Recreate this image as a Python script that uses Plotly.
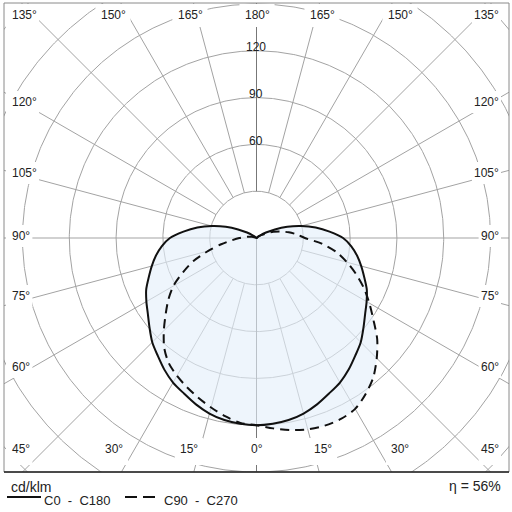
import numpy as np
import plotly.graph_objects as go

# ---------------- data (cd/klm) ----------------
theta_deg = list(range(0, 181, 5))
c0_c180 = [120, 119.5, 118.5, 116.5, 113.5, 110, 107, 103, 98.5, 94.5, 89.5, 85, 81.5, 78,
           73.5, 69.5, 65.5, 61, 55.5, 47, 38.5, 29.5, 21, 13, 7, 3, 1, 0,
           0, 0, 0, 0, 0, 0, 0, 0, 0]
c90 = [120, 122.5, 125, 127, 128, 128, 126.5, 122, 116.5, 109, 101, 91.5, 83.5, 76,
       68, 60, 52, 42, 31, 26, 21, 16, 11.5, 7, 4, 2, 0.5,
       0, 0, 0, 0, 0, 0, 0, 0, 0, 0]
c270 = [120, 119, 116, 112.5, 109, 105.5, 102, 98, 92, 84, 76, 69, 61.5, 52,
        43, 32, 23, 15.5, 11, 7.5, 5, 3, 1.5, 0.5,
        0, 0, 0, 0, 0, 0, 0, 0, 0, 0, 0, 0, 0]
ring_values = [30, 60, 90, 120, 150, 180, 210, 240]
ring_label_values = [60, 90, 120]
spoke_angles = list(range(0, 181, 15))
eta_text = "η = 56%"
unit_text = "cd/klm"
legend_solid = "C0  -  C180"
legend_dashed = "C90  -  C270"

# angle labels: (text, pixel x, pixel y, anchor)
angle_labels = [
    ("135°", 10, 15, "left"), ("150°", 113, 15, "center"), ("165°", 190, 15, "center"),
    ("180°", 257, 15, "center"), ("165°", 322, 15, "center"), ("150°", 400, 15, "center"),
    ("135°", 501, 15, "right"),
    ("120°", 10, 102, "left"), ("105°", 10, 173, "left"), ("90°", 10, 236, "left"),
    ("75°", 10, 296, "left"), ("60°", 10, 367, "left"), ("45°", 10, 449, "left"),
    ("120°", 501, 102, "right"), ("105°", 501, 173, "right"), ("90°", 501, 236, "right"),
    ("75°", 501, 296, "right"), ("60°", 501, 367, "right"), ("45°", 501, 449, "right"),
    ("30°", 114, 449, "center"), ("15°", 189, 449, "center"), ("0°", 257, 449, "center"),
    ("15°", 323, 449, "center"), ("30°", 400, 449, "center"),
]

# ---------------- geometry ----------------
W = H = 512
L, R, T, B = 4, 509, 3, 472          # plot box in pixels
CX, CY, S = 256.5, 238.0, 1.56        # centre (px) and px per cd/klm


def px2x(px):
    return (px - CX) / S


def py2y(py):
    return (CY - py) / S


def xp(px):
    return (px - L) / (R - L)


def yp(py):
    return (B - py) / (B - T)


FONT = "Liberation Sans, Arial, sans-serif"
GRID = "#a3a3a3"

fig = go.Figure()

# rings
t = np.linspace(0, 2 * np.pi, 721)
rx, ry = [], []
for rv in ring_values:
    rx += list(rv * np.cos(t)) + [None]
    ry += list(rv * np.sin(t)) + [None]
fig.add_trace(go.Scatter(x=rx, y=ry, mode="lines", line=dict(color=GRID, width=1),
                         hoverinfo="skip", showlegend=False))

# spokes
sx, sy = [], []
for a in spoke_angles:
    if a in (0, 180):
        continue
    r0 = 0 if a == 90 else 30
    for side in (-1, 1):
        th = np.radians(a)
        sx += [side * r0 * np.sin(th), side * 400 * np.sin(th), None]
        sy += [-r0 * np.cos(th), -400 * np.cos(th), None]
fig.add_trace(go.Scatter(x=sx, y=sy, mode="lines", line=dict(color=GRID, width=1),
                         hoverinfo="skip", showlegend=False))
# vertical axis
fig.add_trace(go.Scatter(x=[0, 0, None, 0, 0], y=[30, 400, None, 0, -400], mode="lines",
                         line=dict(color="#777777", width=1), hoverinfo="skip", showlegend=False))


def closed_path(r_left, r_right):
    th = np.radians(theta_deg)
    rl = np.array(r_left, float)
    rr = np.array(r_right, float)
    xl, yl = -rl * np.sin(th), -rl * np.cos(th)
    xr, yr = rr * np.sin(th), -rr * np.cos(th)
    x = np.concatenate([xl[::-1], xr[1:]])
    y = np.concatenate([yl[::-1], yr[1:]])
    keep = [0]
    for i in range(1, len(x)):
        if np.hypot(x[i] - x[keep[-1]], y[i] - y[keep[-1]]) > 1e-6:
            keep.append(i)
    return x[keep], y[keep]


# fill (union of both planes)
fx, fy = closed_path(np.maximum(c0_c180, c270), np.maximum(c0_c180, c90))
fig.add_trace(go.Scatter(x=fx, y=fy, mode="lines", fill="toself",
                         fillcolor="rgba(228,239,250,0.62)", line=dict(width=0, shape="spline"),
                         hoverinfo="skip", showlegend=False))

# curves
x1, y1 = closed_path(c0_c180, c0_c180)
fig.add_trace(go.Scatter(x=x1, y=y1, mode="lines",
                         line=dict(color="#111111", width=2, shape="spline", smoothing=0.8),
                         hoverinfo="skip", showlegend=False))
x2, y2 = closed_path(c270, c90)
fig.add_trace(go.Scatter(x=x2, y=y2, mode="lines",
                         line=dict(color="#111111", width=2, dash="9px,6px", shape="spline", smoothing=0.8),
                         hoverinfo="skip", showlegend=False))

shapes = []
annotations = []
# label boxes + labels
for text, px, py, anchor in angle_labels:
    w = (len(text) - 1) * 6.7 + 5
    if anchor == "left":
        x0, x1b = px - 4, px + w + 4
    elif anchor == "right":
        x0, x1b = px - w - 4, px
    else:
        x0, x1b = px - w / 2 - 5, px + w / 2 + 5
    if py < 30:
        y0, y1b = 4, 27
    elif py > 440:
        y0, y1b = 438, 465
    else:
        y0, y1b = py - 11, py + 11
    shapes.append(dict(type="rect", xref="paper", yref="paper", x0=xp(max(x0, L + 1)), x1=xp(min(x1b, R - 1)),
                       y0=yp(y1b), y1=yp(y0), fillcolor="white", line=dict(width=0), layer="above"))
    annotations.append(dict(text=text, xref="paper", yref="paper", x=xp(px), y=yp(py),
                            xanchor=anchor, yanchor="middle", showarrow=False,
                            font=dict(family=FONT, size=12, color="#222222")))

# ring value labels
for rv in ring_label_values:
    annotations.append(dict(text=str(rv), xref="x", yref="y", x=-0.5, y=rv + 2.5,
                            xanchor="center", yanchor="middle", showarrow=False,
                            font=dict(family=FONT, size=12, color="#222222")))

# border
shapes.append(dict(type="rect", xref="paper", yref="paper", x0=0, x1=1, y0=0, y1=1,
                   line=dict(color="#8a8a8a", width=1), layer="above"))
shapes.append(dict(type="line", xref="paper", yref="paper", x0=0, x1=1, y0=0, y1=0,
                   line=dict(color="#222222", width=1.5), layer="above"))

# legend / footer
shapes.append(dict(type="line", xref="paper", yref="paper", x0=xp(7), x1=xp(41), y0=yp(497), y1=yp(497),
                   line=dict(color="#111111", width=2)))
shapes.append(dict(type="line", xref="paper", yref="paper", x0=xp(125), x1=xp(137), y0=yp(497), y1=yp(497),
                   line=dict(color="#111111", width=2)))
shapes.append(dict(type="line", xref="paper", yref="paper", x0=xp(143), x1=xp(155), y0=yp(497), y1=yp(497),
                   line=dict(color="#111111", width=2)))
annotations.append(dict(text=unit_text, xref="paper", yref="paper", x=xp(9), y=yp(487),
                        xanchor="left", yanchor="middle", showarrow=False,
                        font=dict(family=FONT, size=14, color="#222222")))
annotations.append(dict(text=legend_solid, xref="paper", yref="paper", x=xp(42), y=yp(500),
                        xanchor="left", yanchor="middle", showarrow=False,
                        font=dict(family=FONT, size=13, color="#222222")))
annotations.append(dict(text=legend_dashed, xref="paper", yref="paper", x=xp(162), y=yp(500),
                        xanchor="left", yanchor="middle", showarrow=False,
                        font=dict(family=FONT, size=13, color="#222222")))
annotations.append(dict(text=eta_text, xref="paper", yref="paper", x=xp(503), y=yp(486),
                        xanchor="right", yanchor="middle", showarrow=False,
                        font=dict(family=FONT, size=14, color="#222222")))

fig.update_layout(
    width=W, height=H, autosize=False,
    margin=dict(l=L, r=W - R, t=T, b=H - B, pad=0),
    paper_bgcolor="white", plot_bgcolor="white",
    xaxis=dict(range=[px2x(L), px2x(R)], visible=False, showgrid=False, zeroline=False, fixedrange=True),
    yaxis=dict(range=[py2y(B), py2y(T)], visible=False, showgrid=False, zeroline=False, fixedrange=True),
    shapes=shapes, annotations=annotations, showlegend=False,
)

fig.write_html("out.html", config={"displayModeBar": False},
               post_script="document.body.style.margin='0px';document.body.style.overflow='hidden';")
